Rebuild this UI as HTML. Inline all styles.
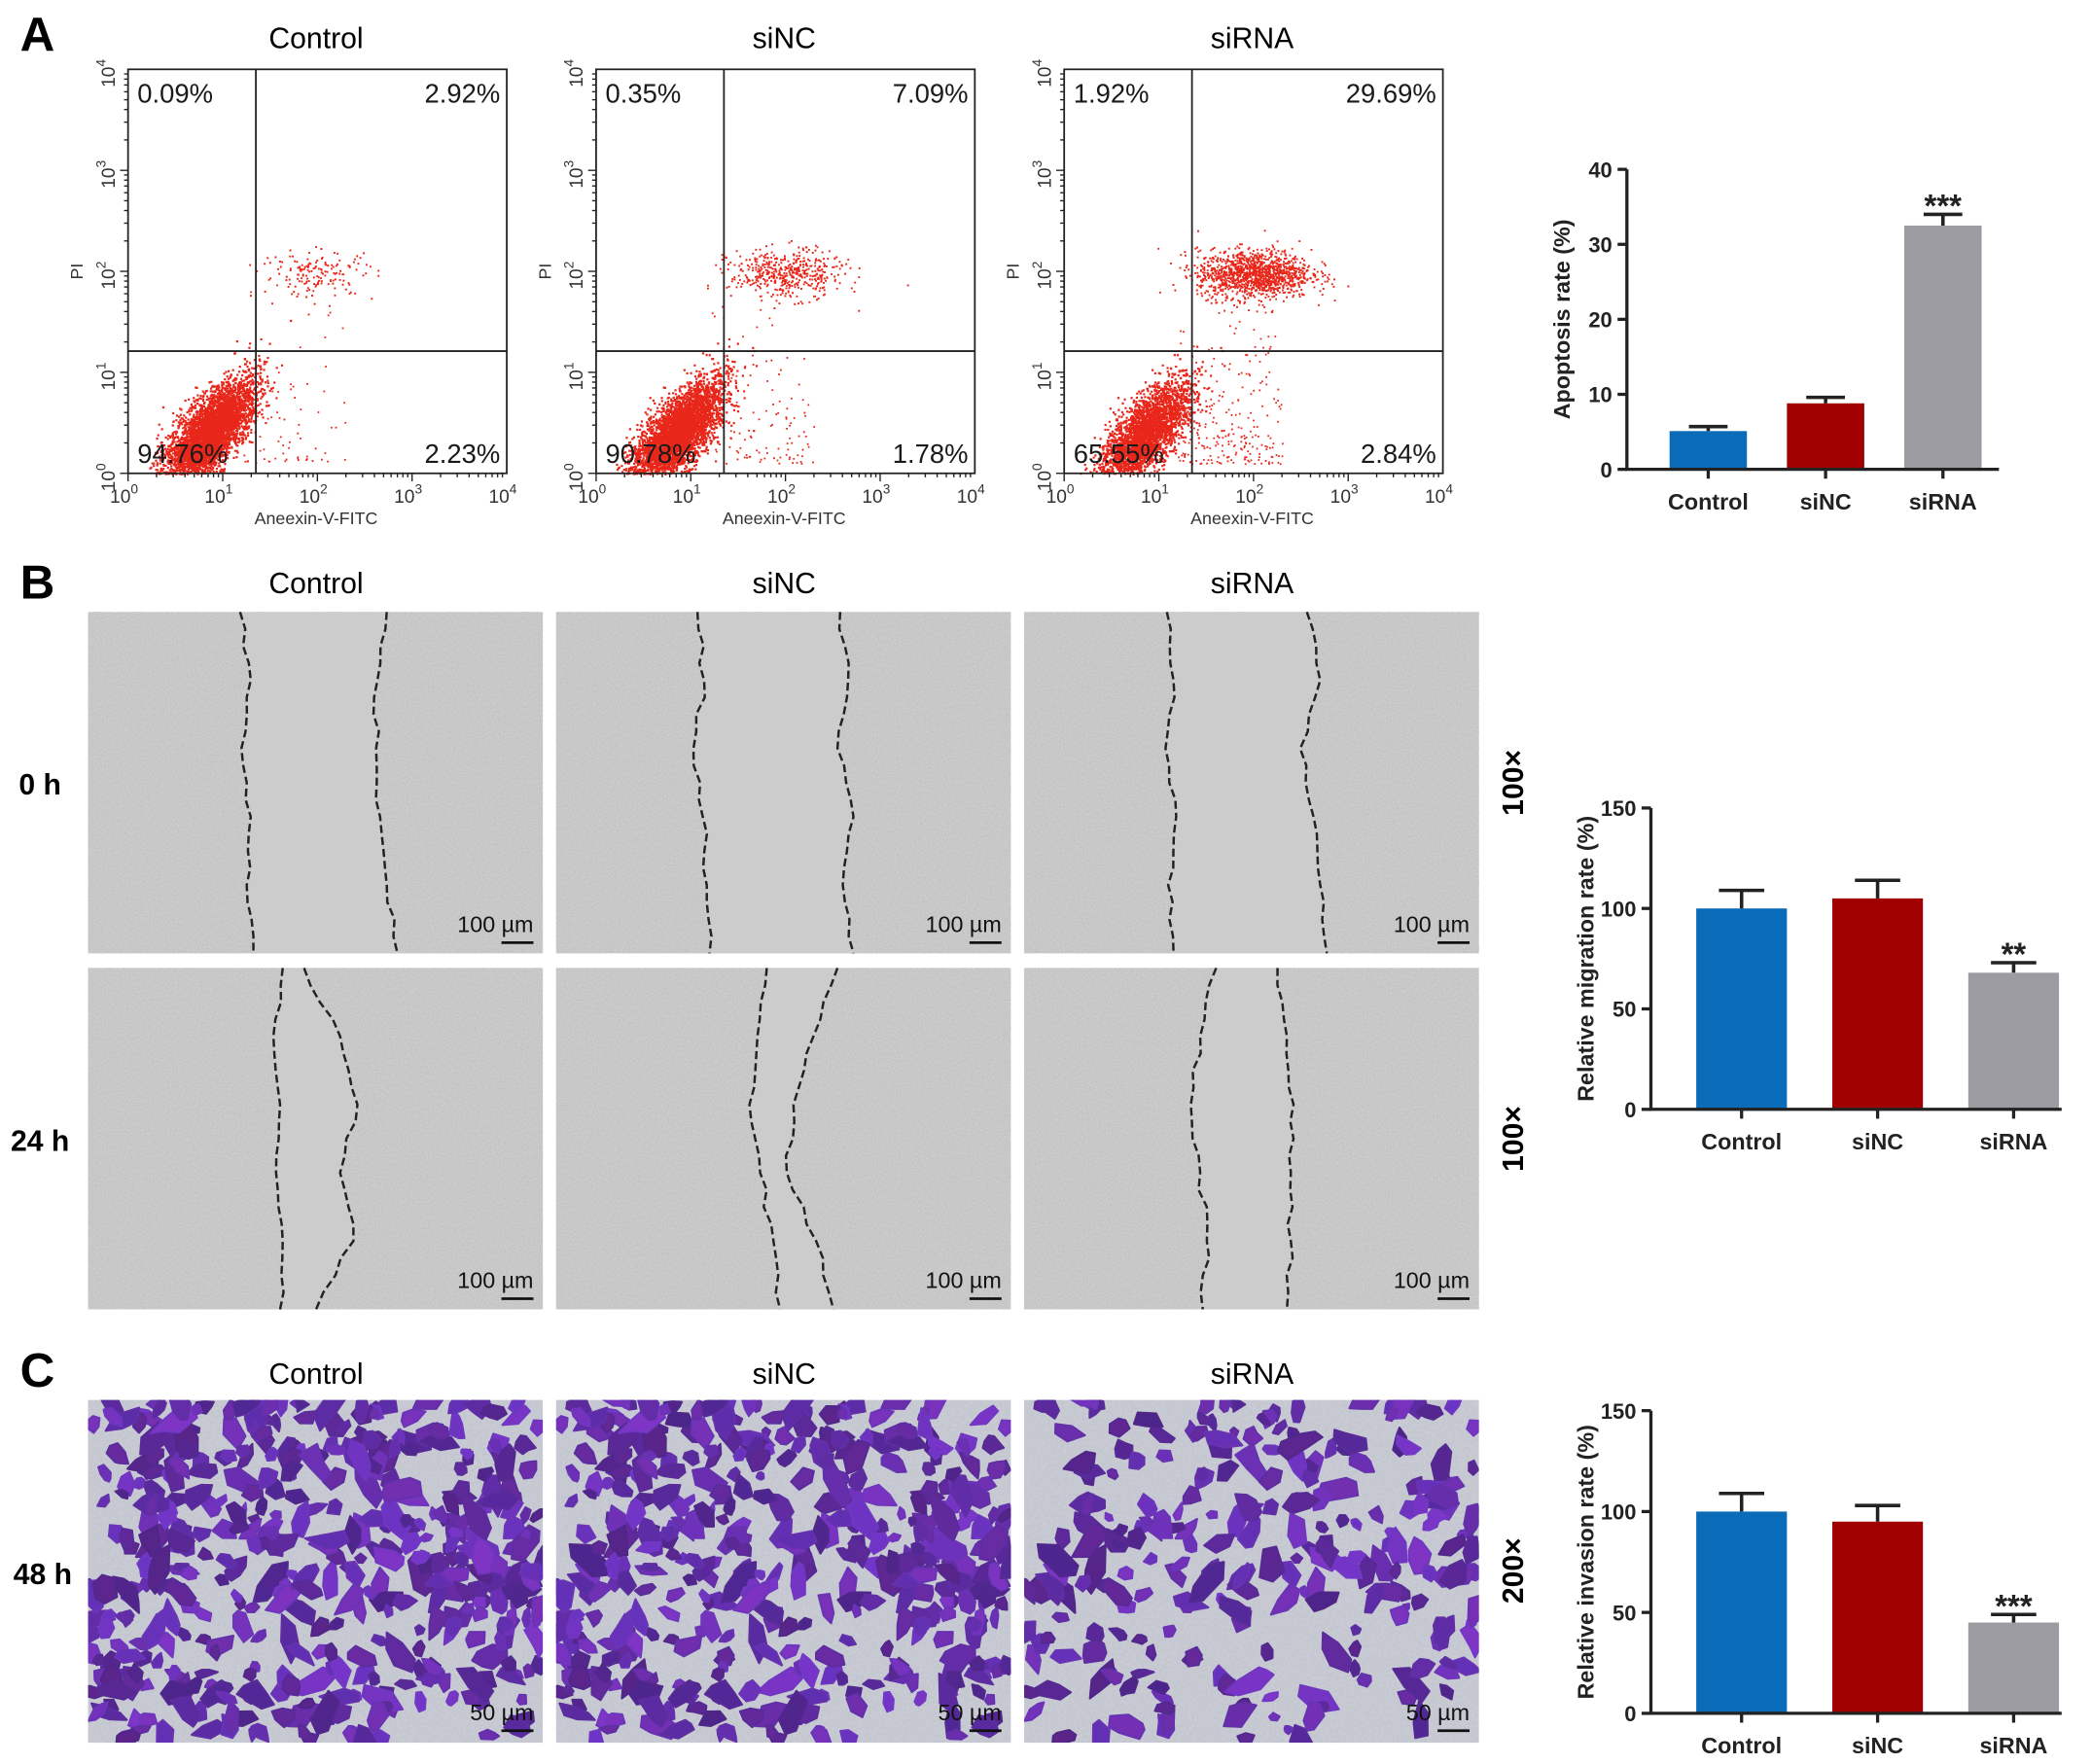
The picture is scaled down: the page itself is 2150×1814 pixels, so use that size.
<!DOCTYPE html>
<html><head><meta charset="utf-8">
<style>
html,body{margin:0;padding:0;background:#fff;}
svg{display:block;}
text{font-family:"Liberation Sans",Arial,sans-serif;}
</style></head>
<body>
<svg id="fig" xmlns="http://www.w3.org/2000/svg" width="2150" height="1814" viewBox="0 0 1568 1323">
<defs>
<filter id="grain" x="0" y="0" width="100%" height="100%">
<feTurbulence type="fractalNoise" baseFrequency="0.8" numOctaves="2" seed="3"/>
<feColorMatrix type="matrix" values="0 0 0 0 0.45  0 0 0 0 0.45  0 0 0 0 0.45  0 0 0 0.9 -0.25"/>
</filter>
<filter id="grainC" x="0" y="0" width="100%" height="100%">
<feTurbulence type="fractalNoise" baseFrequency="0.5" numOctaves="2" seed="7"/>
<feColorMatrix type="matrix" values="0 0 0 0 0.75  0 0 0 0 0.76  0 0 0 0 0.8  0 0 0 0.5 -0.15"/>
</filter>
</defs>
<rect width="1568" height="1323" fill="#fff"/>
<g id="root"></g>
</svg>
<script>
// ---------- data ----------
const groups = ["Control","siNC","siRNA"];
const flowUL = ["0.09%","0.35%","1.92%"];
const flowUR = ["2.92%","7.09%","29.69%"];
const flowLL = ["94.76%","90.78%","65.55%"];
const flowLR = ["2.23%","1.78%","2.84%"];
const flowLiveCounts = [4200, 4000, 3000];
const flowLateCounts = [160, 480, 1300];
const apoptosisValues = [5.1, 8.8, 32.5];
const apoptosisErrors = [0.6, 0.8, 1.5];
const apoptosisTicks = [0,10,20,30,40];
const apoptosisSig = ["","","***"];
const migrationValues = [100, 105, 68];
const migrationErrors = [9, 9, 5];
const migrationTicks = [0,50,100,150];
const migrationSig = ["","","**"];
const invasionValues = [100, 95, 45];
const invasionErrors = [9, 8, 4];
const invasionTicks = [0,50,100,150];
const invasionSig = ["","","***"];
const cellCounts = [440, 420, 240];

const NS="http://www.w3.org/2000/svg";
const root=document.getElementById('root');
function mk(tag,attrs,parent,txt){const e=document.createElementNS(NS,tag);for(const k in attrs)e.setAttribute(k,attrs[k]);if(txt!==undefined)e.textContent=txt;(parent||root).appendChild(e);return e;}
let seed=12345;function rnd(){seed=(seed*1103515245+12345)&0x7fffffff;return seed/0x7fffffff;}
function gauss(){let u=rnd()||1e-6,v=rnd();return Math.sqrt(-2*Math.log(u))*Math.cos(2*Math.PI*v);}

// panel letters
[["A",28,38],["B",28,449],["C",28,1040]].forEach(([t,x,y])=>{
 const e=mk('text',{x:x,y:y,'font-size':36,'font-weight':'bold','text-anchor':'middle'},root,t);
 
 
});

// ---------- flow plots ----------
const flowX=[96,447,798], fy0=52, fw=284, fh=303;
groups.forEach((g,i)=>{
 const gx=flowX[i];
 const G=mk('g',{});
 
 
 const t=mk('text',{x:gx+141,y:36,'font-size':22,'text-anchor':'middle'},G,g);
 
 
 const sx=lx=>gx+lx*fw/4, sy=ly=>fy0+fh-ly*fh/4;
 const D=mk('g',{fill:'#e8261a'},G);
 
 
 let d='';
 for(let k=0;k<flowLiveCounts[i];k++){
  const u=gauss(),v=gauss();
  const lx=0.85+0.22*u+0.09*v, ly=0.4+0.24*u-0.1*v;
  if(lx<0.15||ly<0)continue;
  d+=`M${sx(lx).toFixed(1)} ${sy(ly).toFixed(1)}h1.6v1.6h-1.6z`;
 }
 for(let k=0;k<flowLateCounts[i];k++){
  const lx=2.0+0.3*gauss(), ly=1.98+0.12*gauss();
  d+=`M${sx(lx).toFixed(1)} ${sy(ly).toFixed(1)}h1.4v1.4h-1.4z`;
 }
 const scat=Math.round(flowLateCounts[i]*0.15)+40;
 for(let k=0;k<scat;k++){
  const lx=1.2+1.1*rnd(), ly=0.1+1.9*rnd()*rnd();
  d+=`M${sx(lx).toFixed(1)} ${sy(ly).toFixed(1)}h1.3v1.3h-1.3z`;
 }
 mk('path',{d:d},D);
 mk('rect',{x:gx,y:fy0,width:fw,height:fh,fill:'none',stroke:'#222','stroke-width':1.3},G);
 mk('line',{x1:sx(1.35),x2:sx(1.35),y1:fy0,y2:fy0+fh,stroke:'#222','stroke-width':1.3},G);
 mk('line',{x1:gx,x2:gx+fw,y1:sy(1.21),y2:sy(1.21),stroke:'#222','stroke-width':1.3},G);
 for(let dec=0;dec<4;dec++)for(let m=1;m<10;m++){
  const l=dec+Math.log10(m);
  mk('line',{x1:sx(l),x2:sx(l),y1:fy0+fh,y2:fy0+fh+(m==1?6:3),stroke:'#222','stroke-width':1},G);
  mk('line',{x1:gx,x2:gx-(m==1?6:3),y1:sy(l),y2:sy(l),stroke:'#222','stroke-width':1},G);
 }
 for(let dec=0;dec<=4;dec++){
  const tx=mk('text',{x:sx(dec)-3,y:fy0+fh+22,'font-size':14,'text-anchor':'middle',fill:'#333'},G,'10');
  
  
  mk('tspan',{dy:-7,'font-size':10},tx,String(dec));
  const ty=mk('text',{x:0,y:0,'font-size':14,'text-anchor':'middle',fill:'#333',transform:`translate(${gx-10},${sy(dec)+3}) rotate(-90)`},G,'10');
  
  
  mk('tspan',{dy:-7,'font-size':10},ty,String(dec));
 }
 const xl=mk('text',{x:gx+141,y:fy0+fh+38,'font-size':13,'text-anchor':'middle',fill:'#333'},G,'Aneexin-V-FITC');
 
 
 const yl=mk('text',{x:0,y:0,'font-size':13,'text-anchor':'middle',fill:'#333',transform:`translate(${gx-34},${sy(2)}) rotate(-90)`},G,'PI');
 
 
 [[flowUL[i],gx+7,fy0+25,'start'],[flowUR[i],gx+fw-5,fy0+25,'end'],[flowLL[i],gx+7,fy0+fh-8,'start'],[flowLR[i],gx+fw-5,fy0+fh-8,'end']].forEach(([s,x,y,a])=>{
  const q=mk('text',{x:x,y:y,'font-size':20,'text-anchor':a,fill:'#1a1a1a'},G,s);
  
  
 });
});

// ---------- bar charts ----------
const barColors=['#0a6bb8','#a00000','#9b9ba1'];
function barChart(name,title,vals,errs,ticks,sig,ax,y0,y150,xEnd,centers,bw){
 const G=mk('g',{});
 
 
 const tmax=ticks[ticks.length-1];
 const sy=v=>y0-(v/tmax)*(y0-y150);
 vals.forEach((v,i)=>{
  const b=mk('rect',{x:centers[i]-bw/2,y:sy(v),width:bw,height:y0-sy(v),fill:barColors[i]},G);
  
  
  const e=sy(v+errs[i]);
  const eb=mk('path',{d:`M${centers[i]} ${sy(v)}V${e}M${centers[i]-bw/4} ${e}H${centers[i]+bw/4}`,stroke:'#222','stroke-width':2.6,fill:'none'},G);
  
  
  if(sig[i]){const s=mk('text',{x:centers[i],y:e+2,'font-size':24,'font-weight':'bold','text-anchor':'middle',fill:'#222'},G,sig[i]);
   
   }
  mk('line',{x1:centers[i],x2:centers[i],y1:y0,y2:y0+7,stroke:'#222','stroke-width':2.4},G);
  const l=mk('text',{x:centers[i],y:y0+30,'font-size':17,'font-weight':'bold','text-anchor':'middle',fill:'#222'},G,groups[i]);
  
  
 });
 mk('path',{d:`M${ax} ${sy(tmax)}V${y0}H${xEnd}`,stroke:'#222','stroke-width':2.4,fill:'none'},G);
 ticks.forEach(t=>{
  mk('line',{x1:ax-7,x2:ax,y1:sy(t),y2:sy(t),stroke:'#222','stroke-width':2.4},G);
  const tl=mk('text',{x:ax-11,y:sy(t)+6,'font-size':16,'font-weight':'bold','text-anchor':'end',fill:'#222'},G,String(t));
  
  
 });
 const yt=mk('text',{x:0,y:0,'font-size':17,'font-weight':'bold','text-anchor':'middle',fill:'#222',transform:`translate(${ax-43},${(y0+sy(tmax))/2}) rotate(-90)`},G,title);
 
 
}
barChart('apoptosis-chart','Apoptosis rate (%)',apoptosisValues,apoptosisErrors,apoptosisTicks,apoptosisSig,1220,352,127,1499,[1281,1369,1457],58);
barChart('migration-chart','Relative migration rate (%)',migrationValues,migrationErrors,migrationTicks,migrationSig,1238,832,606,1546,[1306,1408,1510],68);
barChart('invasion-chart','Relative invasion rate (%)',invasionValues,invasionErrors,invasionTicks,invasionSig,1238,1285,1058,1546,[1306,1408,1510],68);

// ---------- micrographs ----------
const imgX=[66,417,768], imgW=341;
function titleRow(y,prefix){groups.forEach((g,i)=>{const t=mk('text',{x:imgX[i]+171,y:y,'font-size':22,'text-anchor':'middle'},root,g);
 
 });}
titleRow(445,'wound');titleRow(1038,'invasion');
function scaleBar(x,y,label){
 mk('text',{x:x+66,y:y,'font-size':17,'text-anchor':'end',fill:'#111'},root,label);
 mk('line',{x1:x+42,x2:x+66,y1:y+8,y2:y+8,stroke:'#111','stroke-width':2},root);
}
const woundLeft=[[180,188,181,188,185,190],[523,528,520,527,530,532],[875,880,874,882,876,880],[212,205,210,207,212,210],[575,568,562,570,580,585],[912,900,893,900,905,902]];
const woundRight=[[290,283,282,285,290,298],[630,636,628,640,632,640],[980,990,975,985,990,995],[228,255,268,255,265,237],[628,610,595,590,612,625],[958,965,970,968,968,965]];
[[459,'0h'],[726,'24h']].forEach(([ry,lab],r)=>{
 groups.forEach((g,i)=>{
  const x=imgX[i],h=256;
  const G=mk('g',{});
  
  
  mk('rect',{x:x,y:ry,width:imgW,height:h,fill:'#cdcdcd'},G);
  mk('rect',{x:x,y:ry,width:imgW,height:h,filter:'url(#grain)'},G);
  const L=woundLeft[r*3+i],R=woundRight[r*3+i];
  const pts=a=>{const out=[];for(let k=0;k<a.length-1;k++){for(let s=0;s<4;s++){const f=s/4;out.push([a[k]+(a[k+1]-a[k])*f+(s?(rnd()-0.5)*5:0),ry+(k+f)*h/(a.length-1)]);}}out.push([a[a.length-1],ry+h]);return out;};
  const pl=pts(L),pr=pts(R);
  const poly=pl.concat(pr.slice().reverse()).map(p=>p.join(',')).join(' ');
  mk('polygon',{points:poly,fill:'#cccccc'},G);
  [pl,pr].forEach(p=>{
   let dd='';
   p.forEach((q,k)=>{dd+=(k?'L':'M')+q[0].toFixed(1)+' '+q[1].toFixed(1);});
   mk('path',{d:dd,stroke:'#222','stroke-width':1.8,fill:'none','stroke-dasharray':'6 3'},G);
  });
  scaleBar(x+268,ry+240,'100 µm');
 });
 const rl=mk('text',{x:30,y:ry+137,'font-size':22,'font-weight':'bold','text-anchor':'middle'},root,lab=='0h'?'0 h':'24 h');
 
 
 const mg=mk('text',{x:0,y:0,'font-size':22,'font-weight':'bold','text-anchor':'middle',transform:`translate(1142,${ry+128}) rotate(-90)`},root,'100×');
 
 
});
groups.forEach((g,i)=>{
 const x=imgX[i],y=1050,h=257;
 const G=mk('g',{});
 
 
 const cp=mk('clipPath',{id:'cp'+i},G);
 mk('rect',{x:x,y:y,width:imgW,height:h},cp);
 mk('rect',{x:x,y:y,width:imgW,height:h,fill:'#c3c6cf'},G);
 mk('rect',{x:x,y:y,width:imgW,height:h,filter:'url(#grainC)'},G);
 const C=mk('g',{'clip-path':`url(#cp${i})`},G);
 for(let k=0;k<cellCounts[i];k++){
  const cx=x+rnd()*imgW, cy=y+rnd()*h;
  const n=5+Math.floor(rnd()*3), s=3.5+rnd()*5.5, el=1+rnd()*1.3, rot=rnd()*Math.PI;
  let p=[];
  for(let j=0;j<n;j++){const a=j/n*2*Math.PI+rnd()*0.4, rr=s*(0.6+rnd()*0.6);
   const ux=Math.cos(a)*rr*el, uy=Math.sin(a)*rr;
   p.push((cx+ux*Math.cos(rot)-uy*Math.sin(rot)).toFixed(1)+','+(cy+ux*Math.sin(rot)+uy*Math.cos(rot)).toFixed(1));}
  const l=34+rnd()*16;
  mk('polygon',{points:p.join(' '),fill:`hsl(${262+rnd()*10},58%,${l}%)`,'stroke-linejoin':'round',stroke:`hsl(265,56%,${l}%)`,'stroke-width':1.5},C);
 }
 scaleBar(x+268,y+240,'50 µm');
});
const rl=mk('text',{x:32,y:1188,'font-size':22,'font-weight':'bold','text-anchor':'middle'},root,'48 h');


const mg=mk('text',{x:0,y:0,'font-size':22,'font-weight':'bold','text-anchor':'middle',transform:'translate(1142,1178) rotate(-90)'},root,'200×');


</script>
</body></html>
